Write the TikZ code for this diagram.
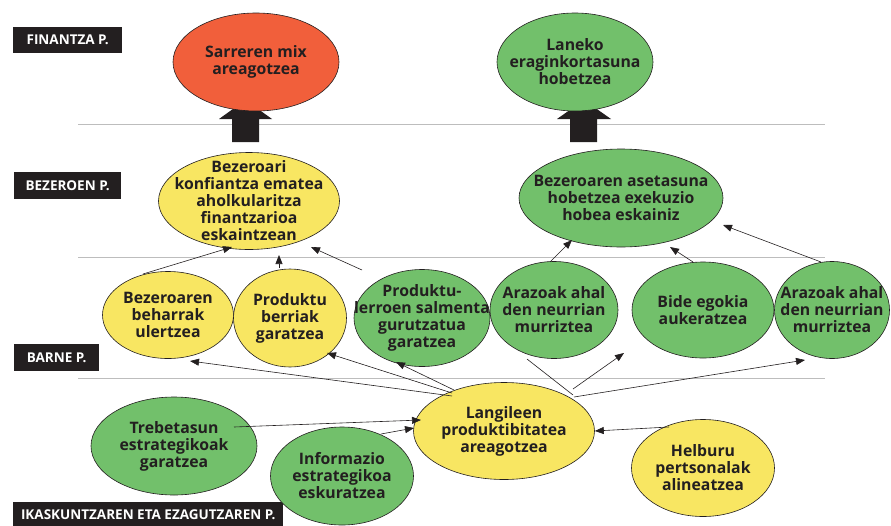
\documentclass[tikz,border=0pt]{standalone}
\usepackage{fontspec}
\setmainfont{Open Sans}
\usetikzlibrary{shapes.geometric,arrows.meta,calc}
\definecolor{cred}{HTML}{F15F3B}
\definecolor{cgreen}{HTML}{72C06B}
\definecolor{cyellow}{HTML}{F8E662}
\definecolor{ctext}{HTML}{231F20}
\definecolor{cgrid}{HTML}{BDBDBD}
\tikzset{
  goal/.style={ellipse, draw=ctext, line width=0.6pt, inner sep=0pt},
  goaltext/.style={align=center, inner sep=0pt, text=ctext,
    font=\fontsize{15.8}{17}\selectfont\bfseries},
  redgoal/.style={goal, fill=cred},
  greengoal/.style={goal, fill=cgreen},
  yellowgoal/.style={goal, fill=cyellow},
  tag/.style={fill=ctext, anchor=north west, inner sep=0pt},
  tagtext/.style={text=white, font=\fontsize{13.5}{15}\selectfont\bfseries},
  grid/.style={draw=cgrid, line width=0.8pt},
  link/.style={draw=ctext, line width=0.6pt, -{Triangle[length=9pt,width=7pt]}},
  plainlink/.style={draw=ctext, line width=0.6pt},
  blockarrow/.style={fill=ctext}
}
\begin{document}
\begin{tikzpicture}[x=1pt,y=-1pt]
\useasboundingbox (0,0) rectangle (891,525);

% grid lines
\coordinate (g1a) at (78,124); \coordinate (g1b) at (825,124);
\coordinate (g2a) at (78,257); \coordinate (g2b) at (825,257);
\coordinate (g3a) at (78,378); \coordinate (g3b) at (825,378);
\draw[grid] (g1a) -- (g1b);
\draw[grid] (g2a) -- (g2b);
\draw[grid] (g3a) -- (g3b);

% tags
\node[tag, minimum width=109pt, minimum height=26pt] (t1) at (13,27) {};
\node[tagtext] (t1t) at (t1.center) {FINANTZA P.};
\node[tag, minimum width=107pt, minimum height=27pt] (t2) at (14,172) {};
\node[tagtext] (t2t) at (t2.center) {BEZEROEN P.};
\node[tag, minimum width=85pt, minimum height=27pt] (t3) at (14,344) {};
\node[tagtext] (t3t) at (t3.center) {BARNE P.};
\node[tag, minimum width=270pt, minimum height=25pt] (t4) at (13,502) {};
\node[tagtext] (t4t) at (t4.center) {IKASKUNTZAREN ETA EZAGUTZAREN P.};

% block arrows
\fill[blockarrow] (232,142) -- (259,142) -- (259,119) -- (272,119) -- (245.5,100) -- (219,119) -- (232,119) -- cycle;
\fill[blockarrow] (570,142) -- (597,142) -- (597,119) -- (611,119) -- (584,100) -- (557,119) -- (570,119) -- cycle;

% financial
\node[redgoal, minimum width=166pt, minimum height=98pt] (sarr) at (256,62) {};
\node[goaltext] (sarrT) at (sarr.center) {Sarreren mix\\areagotzea};
\node[greengoal, minimum width=156pt, minimum height=98pt] (lan) at (575,62) {};
\node[goaltext] (lanT) at (lan.center) {Laneko\\eraginkortasuna\\hobetzea};

% customer
\node[yellowgoal, minimum width=181pt, minimum height=97pt] (bez) at (249,201) {};
\node[goaltext] (bezT) at (bez.center) {Bezeroari\\konfiantza ematea\\aholkularitza\\finantzarioa\\eskaintzean};
\node[greengoal, minimum width=204pt, minimum height=98pt] (ase) at (621,198) {};
\node[goaltext] (aseT) at (ase.center) {Bezeroaren asetasuna\\hobetzea exekuzio\\hobea eskainiz};

% internal
\node[yellowgoal, minimum width=131pt, minimum height=87pt] (beh) at (168,315) {};
\node[goaltext] (behT) at (beh.center) {Bezeroaren\\beharrak\\ulertzea};
\node[yellowgoal, minimum width=113pt, minimum height=98pt] (ber) at (290,318) {};
\node[goaltext] (berT) at (ber.center) {Produktu\\berriak\\garatzea};
\node[greengoal, minimum width=136pt, minimum height=97pt] (ler) at (422,318) {};
\node[goaltext] (lerT) at (ler.center) {Produktu-\\lerroen salmenta\\gurutzatua\\garatzea};
\node[greengoal, minimum width=128pt, minimum height=97pt] (ara1) at (554,310) {};
\node[goaltext] (ara1T) at (ara1.center) {Arazoak ahal\\den neurrian\\murriztea};
\node[greengoal, minimum width=142pt, minimum height=96pt] (bid) at (703,310) {};
\node[goaltext] (bidT) at (bid.center) {Bide egokia\\aukeratzea};
\node[greengoal, minimum width=115pt, minimum height=97pt] (ara2) at (832,310) {};
\node[goaltext] (ara2T) at (ara2.center) {Arazoak ahal\\den neurrian\\murriztea};

% learning
\node[yellowgoal, minimum width=181pt, minimum height=97pt] (lang) at (504,431) {};
\node[goaltext] (langT) at (lang.center) {Langileen\\produktibitatea\\areagotzea};
\node[yellowgoal, minimum width=143pt, minimum height=97pt] (hel) at (703,468) {};
\node[goaltext] (helT) at (hel.center) {Helburu\\pertsonalak\\alineatzea};
\node[greengoal, minimum width=166pt, minimum height=98pt] (tre) at (174,446) {};
\node[goaltext] (treT) at (tre.center) {Trebetasun\\estrategikoak\\garatzea};
\node[greengoal, minimum width=143pt, minimum height=98pt] (inf) at (342,476) {};
\node[goaltext] (infT) at (inf.center) {Informazio\\estrategikoa\\eskuratzea};

% connector end points
\coordinate (free1) at (362,270);
\coordinate (free2) at (624,353);
\coordinate (treS) at (234,427);
\coordinate (infS) at (381,434);
\coordinate (helS) at (669,427);
\coordinate (bezE1) at (232,247);
\coordinate (bezE2) at (279,255);
\coordinate (bezE3) at (311,247);
\coordinate (aseE1) at (572,240);
\coordinate (aseE2) at (670,247);
\coordinate (aseE3) at (723,225);
\coordinate (behS) at (143,274);
\coordinate (berS) at (279,268);
\coordinate (ara1S) at (550,262);
\coordinate (bidS) at (693,262);
\coordinate (ara2S) at (821,262);
\coordinate (behE) at (190,361);
\coordinate (berE) at (327,353);
\coordinate (lerE) at (396,362);
\coordinate (ara2E) at (805,360);
\coordinate (ara1B) at (527,359);
\coordinate (langA) at (452,396);
\coordinate (langB) at (452,393);
\coordinate (langC) at (454,390);
\coordinate (langD) at (573,389);
\coordinate (langE) at (574,397);
\coordinate (langF) at (573,395);
\coordinate (langW1) at (421,420);
\coordinate (langW2) at (414,428);

% connectors
\draw[link] (behS) -- (bezE1);
\draw[link] (berS) -- (bezE2);
\draw[link] (free1) -- (bezE3);
\draw[link] (ara1S) -- (aseE1);
\draw[link] (bidS) -- (aseE2);
\draw[link] (ara2S) -- (aseE3);

\draw[link] (langA) -- (behE);
\draw[link] (langB) -- (berE);
\draw[link] (langC) -- (lerE);
\draw[link] (langD) -- (free2);
\draw[link] (langE) -- (ara2E);
\draw[plainlink] (ara1B) -- (langF);

\draw[link] (helS) -- (lang.east);
\draw[link] (treS) -- (langW1);
\draw[link] (infS) -- (langW2);
\end{tikzpicture}
\end{document}
